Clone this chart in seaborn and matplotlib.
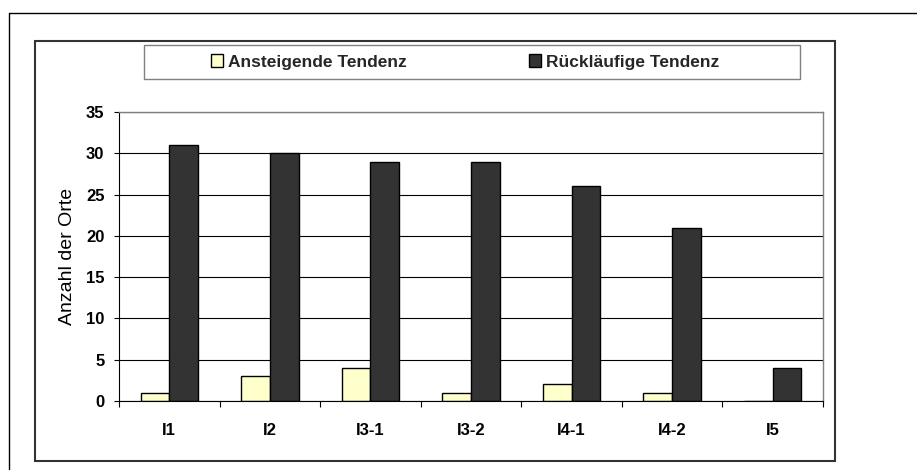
import matplotlib
matplotlib.use("Agg")
import matplotlib.pyplot as plt
import seaborn as sns
import pandas as pd
from matplotlib.patches import Rectangle
from matplotlib.lines import Line2D
from matplotlib.ticker import FixedLocator, NullFormatter

categories = ["I1", "I2", "I3-1", "I3-2", "I4-1", "I4-2", "I5"]
ansteigend = [1, 3, 4, 1, 2, 1, 0]
ruecklaeufig = [31, 30, 29, 29, 26, 21, 4]
series_names = ["Ansteigende Tendenz", "Rückläufige Tendenz"]
y_ticks = [0, 5, 10, 15, 20, 25, 30, 35]

df = pd.DataFrame({
    "Ort": categories * 2,
    "Anzahl": ansteigend + ruecklaeufig,
    "Tendenz": [series_names[0]] * len(categories) + [series_names[1]] * len(categories),
})

sns.set_theme(style="white")
plt.rcParams["font.family"] = ["Liberation Sans", "DejaVu Sans"]

W, H = 917, 470
fig = plt.figure(figsize=(W / 100, H / 100), dpi=100)
fig.patch.set_facecolor("white")

def fx(px):
    return px / W

def fy(py):
    return (H - py) / H

ax = fig.add_axes([fx(119), fy(401), fx(823) - fx(119), fy(112) - fy(401)])

sns.barplot(data=df, x="Ort", y="Anzahl", hue="Tendenz", order=categories,
            hue_order=series_names, palette=["#FFFFCC", "#333333"],
            edgecolor="black", linewidth=1.0, width=0.57, saturation=1,
            ax=ax, legend=True)

ax.set_xlim(-0.5, len(categories) - 0.5)
ax.set_ylim(0, 35)
ax.set_yticks(y_ticks)
ax.set_yticklabels([str(t) for t in y_ticks], fontsize=12, fontweight="bold", color="black")
ax.yaxis.grid(True, color="black", linewidth=0.8)
ax.xaxis.grid(False)
ax.set_axisbelow(True)

# x ticks at category boundaries, labels at centers
ax.xaxis.set_major_locator(FixedLocator([i - 0.5 for i in range(len(categories) + 1)]))
ax.xaxis.set_major_formatter(NullFormatter())
ax.xaxis.set_minor_locator(FixedLocator(list(range(len(categories)))))
ax.set_xticklabels(categories, minor=True, fontsize=12, fontweight="bold", color="black")
ax.tick_params(axis="x", which="major", direction="out", length=4.5, width=0.8, color="black", bottom=True)
ax.tick_params(axis="x", which="minor", length=0, pad=16, bottom=True)
ax.tick_params(axis="y", direction="out", length=3.5, width=0.8, color="black", pad=7, left=True)

ax.set_xlabel("")
ax.set_ylabel("Anzahl der Orte", fontsize=14, color="black")
ax.yaxis.set_label_coords((76 - 119) / (823 - 119), 0.5)

for s in ["left", "bottom"]:
    ax.spines[s].set_color("black")
    ax.spines[s].set_linewidth(0.8)
for s in ["top", "right"]:
    ax.spines[s].set_color("#808080")
    ax.spines[s].set_linewidth(1.0)
    ax.spines[s].set_visible(True)

# legend
handles, labels = ax.get_legend_handles_labels()
ax.get_legend().remove()
fig.legend(handles, labels, loc="center", bbox_to_anchor=(fx(465), fy(62)),
           ncol=2, frameon=False, prop={"size": 12.5, "weight": "bold"},
           handlelength=0.7, handleheight=0.7, handletextpad=0.3,
           columnspacing=7.0, borderaxespad=0)

fig.add_artist(Rectangle((fx(144), fy(79)), fx(800) - fx(144), fy(45) - fy(79),
                         transform=fig.transFigure, fill=False,
                         edgecolor="#808080", linewidth=1.0))

# inner chart frame
fig.add_artist(Rectangle((fx(35), fy(461)), fx(835) - fx(35), fy(41) - fy(461),
                         transform=fig.transFigure, fill=False,
                         edgecolor="#333333", linewidth=1.5))

# outer frame (left and top edges visible)
fig.add_artist(Line2D([fx(9), fx(9)], [fy(13), 0], transform=fig.transFigure,
                      color="black", linewidth=1.0))
fig.add_artist(Line2D([fx(9), 1], [fy(13), fy(13)], transform=fig.transFigure,
                      color="black", linewidth=1.0))

fig.savefig("out.png", dpi=100)
